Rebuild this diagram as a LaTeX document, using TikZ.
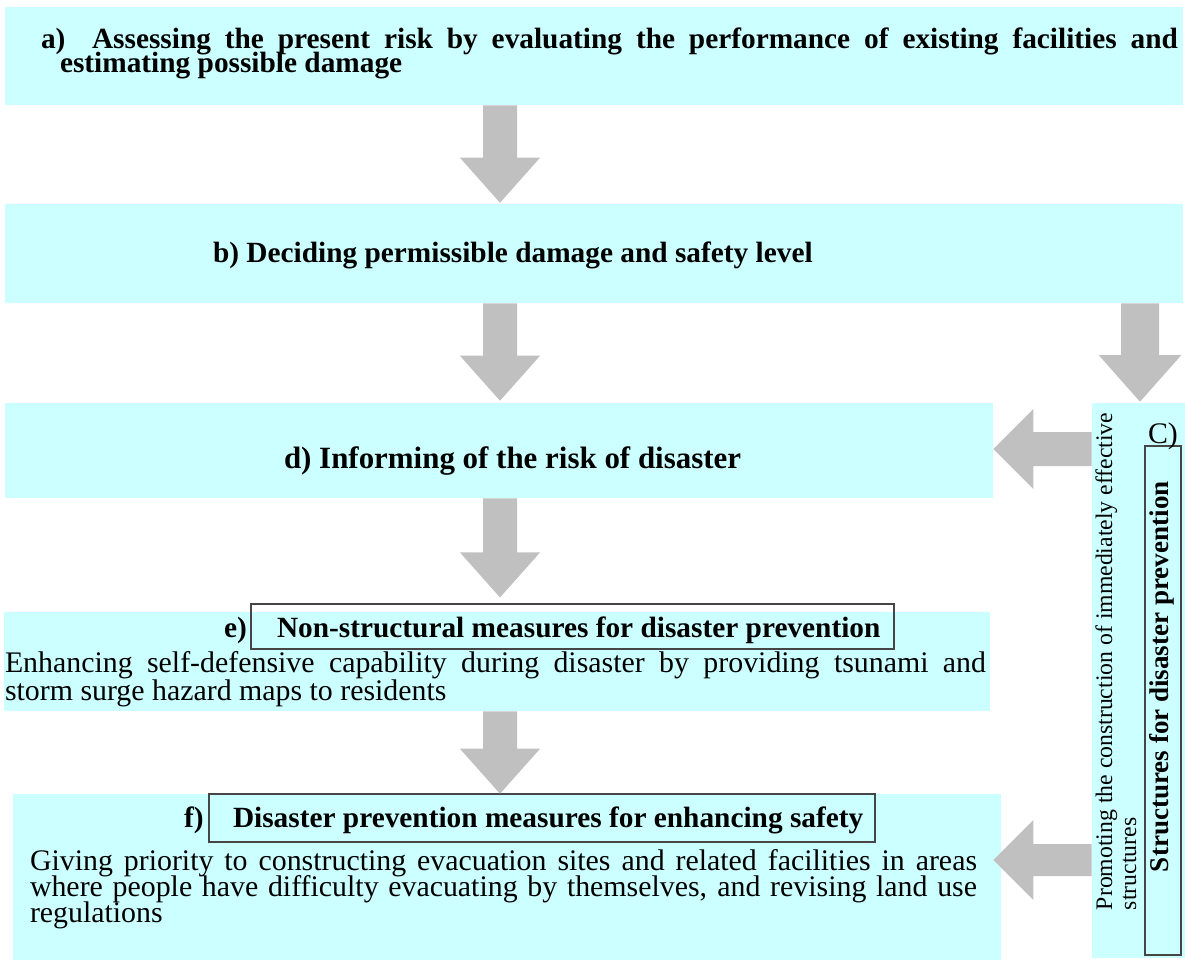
\documentclass[tikz,border=0pt]{standalone}
\usepackage{fontspec}
\setmainfont{Liberation Serif}
\usetikzlibrary{calc,fit}

\definecolor{panelcyan}{RGB}{204,255,255}
\definecolor{arrowgray}{RGB}{192,192,192}
\definecolor{frameline}{RGB}{70,70,70}

\tikzset{
  panel/.style={fill=panelcyan, draw=none, inner sep=0pt},
  titleframe/.style={draw=frameline, line width=0.8pt, inner sep=0pt},
  headfont/.style={font=\fontsize{22}{24}\selectfont\bfseries},
  bodyfont/.style={font=\fontsize{22.4}{26}\selectfont},
  sidefont/.style={font=\fontsize{17.8}{20}\selectfont},
  sideheadfont/.style={font=\fontsize{20.3}{22}\selectfont\bfseries},
  txt/.style={anchor=base west, inner sep=0pt, outer sep=0pt},
  % wide block arrow: #1 half shaft width, #2 half head width, #3 head length
  blockarrow/.style n args={3}{
    fill=arrowgray, draw=none,
    to path={
      let \p1=(\tikztostart), \p2=(\tikztotarget),
          \n1={veclen(\x2-\x1,\y2-\y1)},
          \n2={(\x2-\x1)/\n1},
          \n3={(\y2-\y1)/\n1}
      in
      ({\x1-(#1)*(\n3)},{\y1+(#1)*(\n2)})
      -- ({\x2-(#3)*(\n2)-(#1)*(\n3)},{\y2-(#3)*(\n3)+(#1)*(\n2)})
      -- ({\x2-(#3)*(\n2)-(#2)*(\n3)},{\y2-(#3)*(\n3)+(#2)*(\n2)})
      -- (\p2)
      -- ({\x2-(#3)*(\n2)+(#2)*(\n3)},{\y2-(#3)*(\n3)-(#2)*(\n2)})
      -- ({\x2-(#3)*(\n2)+(#1)*(\n3)},{\y2-(#3)*(\n3)-(#1)*(\n2)})
      -- ({\x1+(#1)*(\n3)},{\y1-(#1)*(\n2)})
      -- cycle
    }
  }
}

\begin{document}
\begin{tikzpicture}[x=0.75pt,y=-0.75pt]
\useasboundingbox (0,0) rectangle (1185,962);

% ---- panels ----
\node[panel, fit={(5,7)(1183,105)}] (a) {};
\node[panel, fit={(5,204)(1183,303)}] (b) {};
\node[panel, fit={(5,403)(993,498)}] (d) {};
\node[panel, fit={(4,612)(990,711)}] (e) {};
\node[panel, fit={(13,794)(1001,960)}] (f) {};
\node[panel, fit={(1092,403)(1185,958)}] (C) {};

% ---- framed headings ----
\node[titleframe, fit={(251,604)(894,649)}] (etitle) {};
\node[titleframe, fit={(209,794)(875,842)}] (ftitle) {};
\node[titleframe, fit={(1145,446)(1181,955)}] (Ctitle) {};

% ---- a) ----
\node[txt, headfont] (alabel) at (41,49) {a)};
\node[txt, headfont] (aline1) at (92,49)
  {\makebox[814.5pt][s]{Assessing the present risk by evaluating the performance of existing facilities and}};
\node[txt, headfont] (aline2) at (60,73) {estimating possible damage};

% ---- b) ----
\node[txt, headfont] (btext) at (213,263) {b) Deciding permissible damage and safety level};

% ---- d) ----
\node[txt, font=\fontsize{23.2}{25}\selectfont\bfseries] (dtext) at (284,469)
  {d) Informing of the risk of disaster};

% ---- e) ----
\node[txt, headfont] (elabel) at (224,637) {e)};
\node[txt, headfont] (ehead) at (277,637) {Non-structural measures for disaster prevention};
\node[txt, bodyfont] (eline1) at (5,672)
  {\makebox[735.75pt][s]{Enhancing self-defensive capability during disaster by providing tsunami and}};
\node[txt, bodyfont] (eline2) at (5,700) {storm surge hazard maps to residents};

% ---- f) ----
\node[txt, headfont] (flabel) at (184,827) {f)};
\node[txt, headfont] (fhead) at (233,827) {Disaster prevention measures for enhancing safety};
\node[txt, bodyfont] (fline1) at (30,870)
  {\makebox[710.25pt][s]{Giving priority to constructing evacuation sites and related facilities in areas}};
\node[txt, bodyfont] (fline2) at (30,896)
  {\makebox[710.25pt][s]{where people have difficulty evacuating by themselves, and revising land use}};
\node[txt, bodyfont] (fline3) at (30,922) {regulations};

% ---- C) side column ----
\node[txt, bodyfont] (Clabel) at (1148,443) {C)};
\node[txt, sidefont, rotate=90] (Cline1) at (1112,910)
  {Promoting the construction of immediately effective};
\node[txt, sidefont, rotate=90] (Cline2) at (1136,910) {structures};
\node[txt, sideheadfont, rotate=90] (Chead) at (1168,872)
  {Structures for disaster prevention};

% ---- block arrows ----
\coordinate (mid) at (500,0);
\coordinate (side) at (1140,0);
\coordinate (rowd) at (0,449);
\coordinate (rowf) at (0,860);

\path[blockarrow={12.75pt}{30pt}{33.75pt}] (a.south -| mid) to ($(b.north -| mid)+(0,-1)$);
\path[blockarrow={12.75pt}{30pt}{33.75pt}] (b.south -| mid) to ($(d.north -| mid)+(0,-2)$);
\path[blockarrow={12.75pt}{30pt}{33.75pt}] (d.south -| mid) to ($(etitle.north -| mid)+(0,-6)$);
\path[blockarrow={12.75pt}{30pt}{33.75pt}] (e.south -| mid) to (f.north -| mid);
\path[blockarrow={14.25pt}{31pt}{35pt}] (b.south -| side) to ($(C.north -| side)+(0,-1)$);
\path[blockarrow={12.75pt}{30pt}{30pt}] (C.west |- rowd) to (d.east |- rowd);
\path[blockarrow={12pt}{30pt}{30pt}] (C.west |- rowf) to ($(f.east |- rowf)+(-8,0)$);
\end{tikzpicture}
\end{document}
